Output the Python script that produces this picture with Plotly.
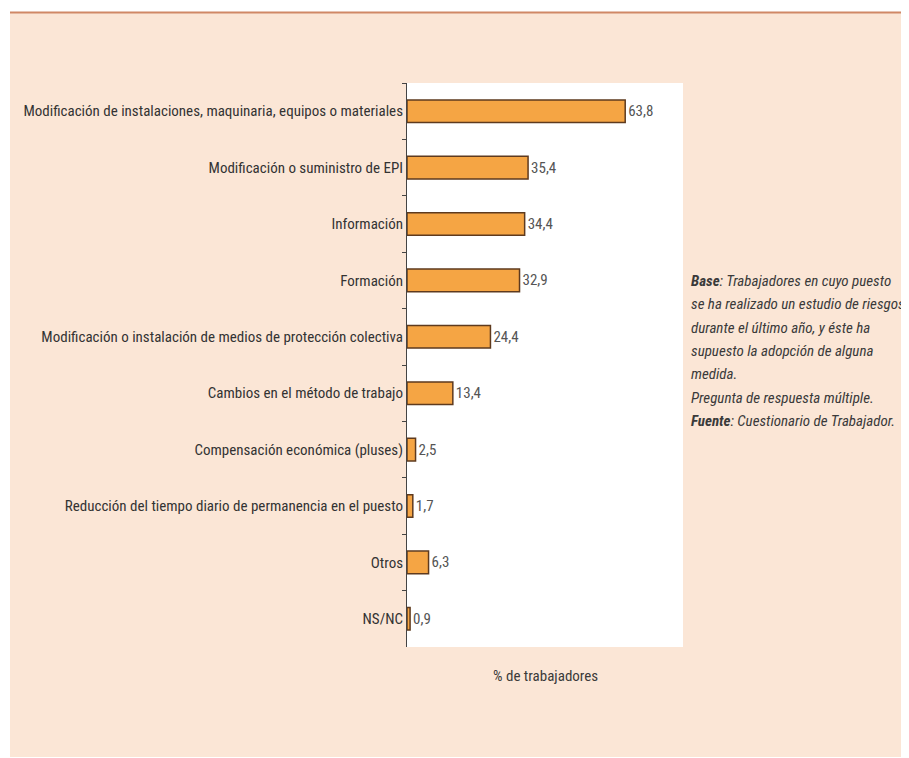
import plotly.graph_objects as go

categories = [
    "Modificación de instalaciones, maquinaria, equipos o materiales",
    "Modificación o suministro de EPI",
    "Información",
    "Formación",
    "Modificación o instalación de medios de protección colectiva",
    "Cambios en el método de trabajo",
    "Compensación económica (pluses)",
    "Reducción del tiempo diario de permanencia en el puesto",
    "Otros",
    "NS/NC",
]
values = [63.8, 35.4, 34.4, 32.9, 24.4, 13.4, 2.5, 1.7, 6.3, 0.9]
value_labels = [f"{v:.1f}".replace(".", ",") for v in values]

note_lines = [
    "<b>Base</b>: Trabajadores en cuyo puesto",
    "se ha realizado un estudio de riesgos",
    "durante el último año, y éste ha",
    "supuesto la adopción de alguna",
    "medida.",
    "Pregunta de respuesta múltiple.",
    "<b>Fuente</b>: Cuestionario de Trabajador.",
]
axis_title = "% de trabajadores"

FONT = "Liberation Sans Narrow, Roboto Condensed, Arial Narrow, Liberation Sans, sans-serif"

OFF = 8  # page body margin
W, H = 909 - OFF, 758 - OFF
L, R, T, B = 407 - OFF, 683 - OFF, 83 - OFF, 647 - OFF  # plot area in figure pixels

def px(x):  # screen pixel -> paper
    return (x - OFF - L) / (R - L)

def py(y):
    return (B - (y - OFF)) / (B - T)

fig = go.Figure()
fig.add_trace(go.Bar(
    x=values,
    y=categories,
    orientation="h",
    width=0.4,
    marker=dict(color="#f5a544", line=dict(color="#5e3a1e", width=1.5)),
    text=value_labels,
    textposition="outside",
    textfont=dict(family=FONT, size=15, color="#555555"),
    cliponaxis=False,
    hoverinfo="skip",
))

shapes = [
    dict(type="rect", xref="paper", yref="paper", x0=px(10), x1=px(915), y0=py(757), y1=py(13),
         fillcolor="#fbe6d6", line=dict(width=0), layer="below"),
    dict(type="line", xref="paper", yref="paper", x0=px(10), x1=px(915), y0=py(12.5), y1=py(12.5),
         line=dict(color="#d08866", width=2), layer="below"),
    dict(type="rect", xref="paper", yref="paper", x0=0, x1=1, y0=0, y1=1,
         fillcolor="#ffffff", line=dict(width=0), layer="below"),
]

annotations = [
    dict(text=axis_title, xref="paper", yref="paper", x=0.5, y=py(676),
         xanchor="center", yanchor="middle", showarrow=False,
         font=dict(family=FONT, size=15, color="#3a3a3a")),
]
for i, line in enumerate(note_lines):
    annotations.append(dict(
        text=f"<i>{line}</i>", xref="paper", yref="paper", x=px(689), y=py(281 + i * 23.3),
        xanchor="left", yanchor="middle", showarrow=False, align="left",
        font=dict(family=FONT, size=15, color="#3a3a3a"),
    ))

fig.update_layout(
    width=W, height=H,
    margin=dict(l=L, r=W - R, t=T, b=H - B, pad=0),
    paper_bgcolor="#ffffff",
    plot_bgcolor="#ffffff",
    showlegend=False,
    shapes=shapes,
    annotations=annotations,
    xaxis=dict(range=[0, 80.7], showgrid=False, zeroline=False, showticklabels=False,
               ticks="", showline=False, fixedrange=True),
    yaxis=dict(autorange="reversed", showgrid=False, zeroline=False, showline=True,
               linecolor="#444444", linewidth=1, ticks="outside", tickson="boundaries",
               ticklen=4, tickcolor="#444444",
               tickfont=dict(family=FONT, size=15, color="#333333"), fixedrange=True),
    font=dict(family=FONT),
)

fig.write_html("out.html")
